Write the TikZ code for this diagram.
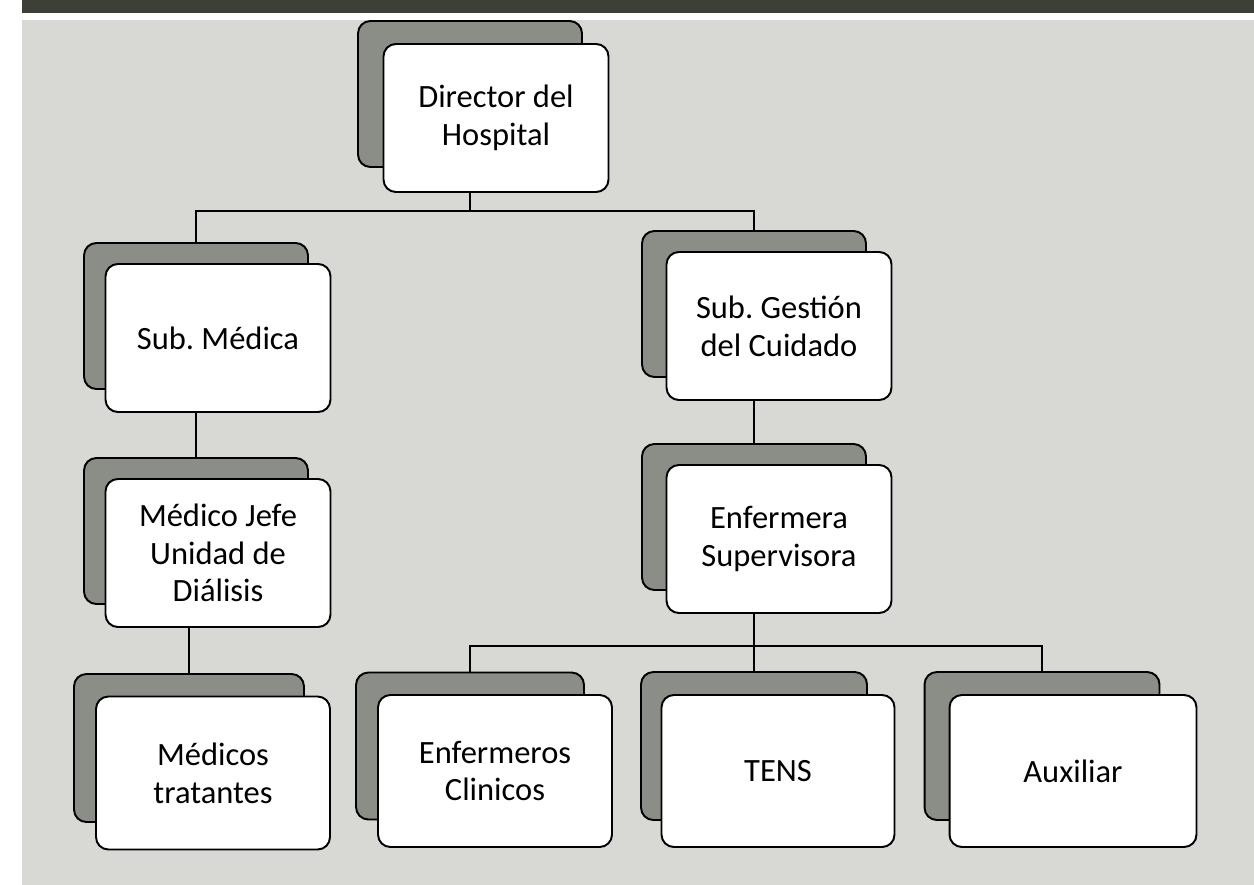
\documentclass[tikz,border=0pt]{standalone}
\usepackage{fontspec}
\setmainfont{Carlito}
\frenchspacing
\usetikzlibrary{positioning,calc}
\definecolor{paper}{RGB}{216,216,213}
\definecolor{backfill}{RGB}{138,142,134}
\definecolor{band}{RGB}{60,64,54}

\begin{document}
\begin{tikzpicture}[x=0.02cm, y=-0.02cm, line width=1.1pt,
	back/.style = {draw, fill=backfill, rounded corners=7pt, minimum width=4.48cm, minimum height=2.92cm},
	card/.style = {draw, fill=white, rounded corners=7pt, minimum width=4.5cm, minimum height=2.96cm, align=center, font=\fontsize{18.5}{21.5}\selectfont}]
		% page and strip at the top
		\useasboundingbox (0,0) rectangle (1254,885);
		\fill[white] (0,0) rectangle (1254,885);
		\fill[paper] (22,20) rectangle (1254,885);
		\fill[band] (22,0) rectangle (1254,13);
		% back plates
		\node[back] (dirB) at (470, 94) {};
		\node[back] (subMedB) at (196, 316) {};
		\node[back] (subGesB) at (754, 304) {};
		\node[back] (jefeB) at (196, 531) {};
		\node[back] (supervB) at (754, 517) {};
		\node[back, minimum width=4.6cm, minimum height=2.96cm] (medicosB) at (189, 748) {};
		\node[back, minimum width=4.56cm, minimum height=2.94cm] (enfermerosB) at (470, 746) {};
		\node[back, minimum width=4.52cm, minimum height=2.96cm] (tensB) at (754, 746) {};
		\node[back, minimum width=4.7cm, minimum height=2.96cm] (auxB) at (1042, 746) {};
		% cards
		\node[card] (dir) at ([shift={(26,24)}]dirB) {Director del\\Hospital};
		\node[card] (subMed) at ([shift={(22,22)}]subMedB) {Sub. Médica};
		\node[card] (subGes) at ([shift={(25,22)}]subGesB) {Sub. Gestión\\del Cuidado};
		\node[card] (jefe) at ([shift={(22,22)}]jefeB) {Médico Jefe\\Unidad de\\Diálisis};
		\node[card] (superv) at ([shift={(25,22)}]supervB) {Enfermera\\Supervisora};
		\node[card, minimum width=4.68cm, minimum height=3.06cm] (medicos) at ([shift={(24,25)}]medicosB) {Médicos\\tratantes};
		\node[card, minimum width=4.68cm, minimum height=3.04cm] (enfermeros) at ([shift={(25,25)}]enfermerosB) {Enfermeros\\Clinicos};
		\node[card, minimum width=4.66cm, minimum height=3.04cm] (tens) at ([shift={(24,25)}]tensB) {TENS};
		\node[card, minimum width=4.94cm, minimum height=3.04cm] (aux) at ([shift={(31,25)}]auxB) {Auxiliar};
		% connectors
		\coordinate (bus1) at (470, 211);
		\coordinate (bus2) at (754, 646);
		\draw (dir.south -| dirB) -- (bus1);
		\draw (subMedB.north) |- (bus1) -| (subGesB.north);
		\draw (subMed.south -| subMedB) -- (jefeB.north);
		\draw (jefe.south -| medicosB) -- (medicosB.north);
		\draw (subGes.south -| subGesB) -- (supervB.north);
		\draw (superv.south -| supervB) -- (bus2);
		\draw (enfermerosB.north) |- (bus2) -| (auxB.north);
		\draw (bus2) -- (tensB.north);
	\end{tikzpicture}
\end{document}
